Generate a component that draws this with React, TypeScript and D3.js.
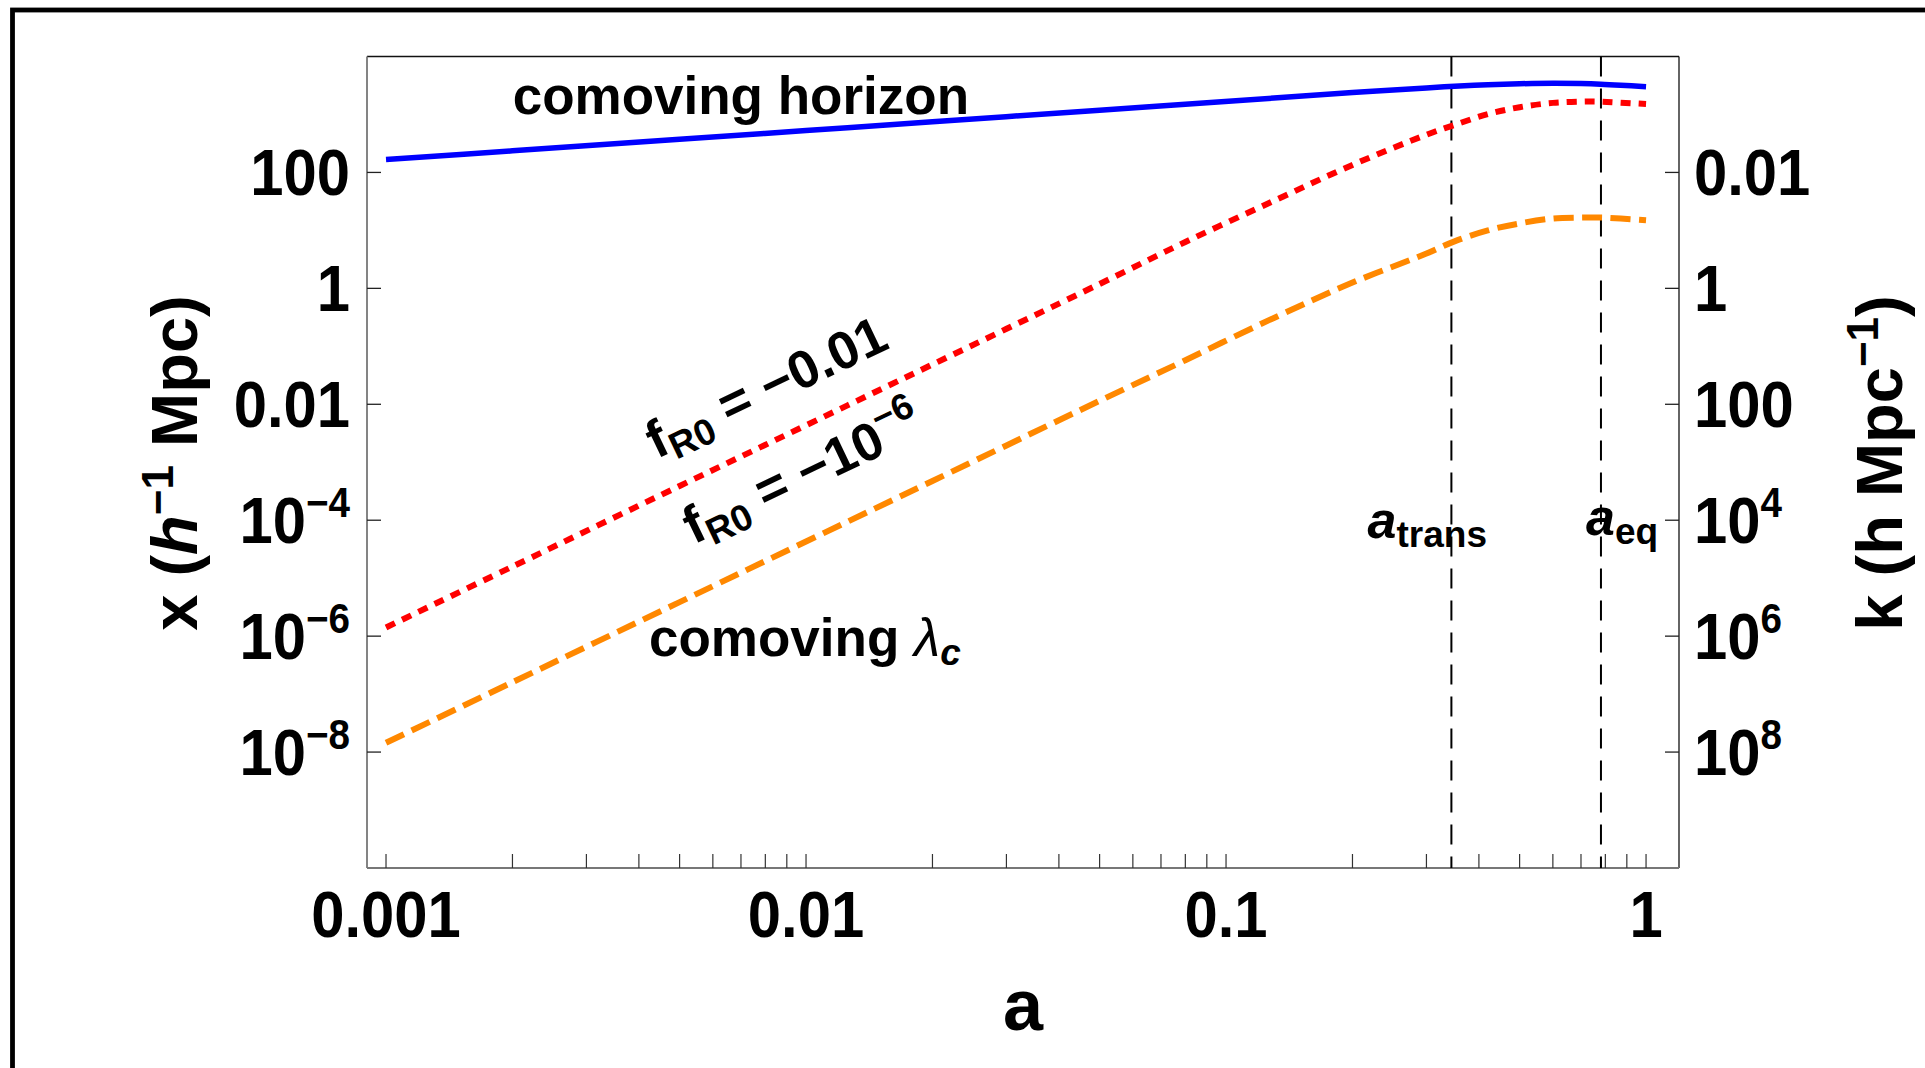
import React from 'react';
import * as d3 from 'd3';

// Canvas and plot frame
const W = 1925;
const H = 1068;
const FONT = "'Liberation Sans', Arial, Helvetica, sans-serif";
const frame = { left: 367, right: 1679, top: 56.5, bottom: 868 };

// Scale factor a (x axis)
const scaleFactors = [0.001, 0.002, 0.005, 0.01, 0.02, 0.05, 0.08, 0.13, 0.2, 0.3, 0.35, 0.42, 0.5, 0.6, 0.7, 0.78, 0.87, 1.0];
// Comoving horizon (h^-1 Mpc)
const comovingHorizon = [166.7, 235.5, 373.3, 527.2, 746.4, 1186, 1503, 1919, 2388, 2871, 3069, 3258, 3388, 3451, 3412, 3334, 3206, 3013];
// Comoving Compton wavelength, fR0 = -0.01
const lambdaFR0a = [1.413e-6, 1.585e-5, 3.89e-4, 4.335e-3, 0.04864, 1.191, 6.31, 32.36, 134.9, 446.7, 660.7, 1012, 1334, 1585, 1667, 1667, 1600, 1514];
// Comoving Compton wavelength, fR0 = -1e-6
const lambdaFR0b = [1.445e-8, 1.603e-7, 3.864e-6, 4.285e-5, 4.753e-4, 0.01148, 0.05754, 0.309, 1.259, 3.981, 6.457, 10.0, 13.18, 16.03, 16.67, 16.67, 16.03, 15.0];

// Marked epochs
const aTrans = 0.344;
const aEq = 0.781;

// Axis domains and ticks
const xDomain = [9.01e-4, 1.198];
const yDomain = [1e-10, 1e4];
const kDomain = [1e10, 1e-4];
const xTickValues = [0.001, 0.01, 0.1, 1];
const xTickLabels = ['0.001', '0.01', '0.1', '1'];
const yTickValues = [100, 1, 0.01, 1e-4, 1e-6, 1e-8];
const yTickLabels: [string, string][] = [['100', ''], ['1', ''], ['0.01', ''], ['10', '−4'], ['10', '−6'], ['10', '−8']];
const kTickValues = [0.01, 1, 100, 1e4, 1e6, 1e8];
const kTickLabels: [string, string][] = [['0.01', ''], ['1', ''], ['100', ''], ['10', '4'], ['10', '6'], ['10', '8']];

const x = d3.scaleLog().domain(xDomain).range([frame.left, frame.right]);
const y = d3.scaleLog().domain(yDomain).range([frame.bottom, frame.top]);
const k = d3.scaleLog().domain(kDomain).range([frame.bottom, frame.top]);

const minorTicks: number[] = [];
for (let e = -3; e <= -1; e++) {
  for (let m = 1; m <= 9; m++) minorTicks.push(m * Math.pow(10, e));
}
minorTicks.push(1);

const lineGen = d3
  .line<[number, number]>()
  .x((d) => x(d[0]))
  .y((d) => y(d[1]))
  .curve(d3.curveCatmullRom.alpha(0.5));

const pairs = (vals: number[]) => scaleFactors.map((a, i) => [a, vals[i]] as [number, number]);

const TICK = 14;
const TICK_FS = 65;
const SUP_FS = 42;

function TickLabel({ tx, ty, main, sup, anchor }: { tx: number; ty: number; main: string; sup: string; anchor: string }) {
  return (
    <text
      transform={`translate(${tx},${ty}) scale(0.92,1)`}
      textAnchor={anchor}
      fontSize={TICK_FS}
      fontWeight="bold"
      fontFamily={FONT}
    >
      {main}
      {sup ? (
        <tspan fontSize={SUP_FS} dy={-26}>
          {sup}
        </tspan>
      ) : null}
    </text>
  );
}

export default function App() {
  return (
    <svg
      width={W}
      height={H}
      viewBox={`0 0 ${W} ${H}`}
      style={{ position: 'absolute', left: 0, top: 0, background: '#fff' }}
      fontFamily={FONT}
    >
      <rect x={0} y={0} width={W} height={H} fill="#fff" />
      {/* outer border */}
      <rect x={12.5} y={10} width={W + 50} height={H + 50} fill="none" stroke="#000" strokeWidth={4.8} />

      {/* plot frame */}
      <line x1={frame.left} x2={frame.right} y1={frame.top} y2={frame.top} stroke="#111" strokeWidth={1.3} />
      <line x1={frame.right} x2={frame.right} y1={frame.top} y2={frame.bottom} stroke="#111" strokeWidth={1.3} />
      <line x1={frame.left} x2={frame.left} y1={frame.top} y2={frame.bottom} stroke="#777" strokeWidth={1.8} />
      <line x1={frame.left} x2={frame.right} y1={frame.bottom} y2={frame.bottom} stroke="#777" strokeWidth={1.8} />

      {/* bottom ticks */}
      {minorTicks.map((t, i) => (
        <line key={'bt' + i} x1={x(t)} x2={x(t)} y1={frame.bottom} y2={frame.bottom - TICK} stroke="#333" strokeWidth={1.2} />
      ))}
      {/* left ticks */}
      {yTickValues.map((t, i) => (
        <line key={'lt' + i} x1={frame.left} x2={frame.left + TICK} y1={y(t)} y2={y(t)} stroke="#222" strokeWidth={1.3} />
      ))}
      {/* right ticks */}
      {kTickValues.map((t, i) => (
        <line key={'rt' + i} x1={frame.right} x2={frame.right - TICK} y1={k(t)} y2={k(t)} stroke="#222" strokeWidth={1.3} />
      ))}

      {/* epoch markers */}
      {[aTrans, aEq].map((a, i) => (
        <line
          key={'ep' + i}
          x1={x(a)}
          x2={x(a)}
          y1={frame.top}
          y2={frame.bottom}
          stroke="#000"
          strokeWidth={2}
          strokeDasharray="20 12"
        />
      ))}

      {/* curves */}
      <path d={lineGen(pairs(comovingHorizon)) || ''} fill="none" stroke="#0000ff" strokeWidth={5.5} />
      <path d={lineGen(pairs(lambdaFR0a)) || ''} fill="none" stroke="#ff0000" strokeWidth={6} strokeDasharray="10 8" />
      <path d={lineGen(pairs(lambdaFR0b)) || ''} fill="none" stroke="#ff8800" strokeWidth={6} strokeDasharray="20 8.5" />

      {/* tick labels */}
      {xTickValues.map((t, i) => (
        <TickLabel key={'xl' + i} tx={x(t)} ty={936.5} main={xTickLabels[i]} sup="" anchor="middle" />
      ))}
      {yTickValues.map((t, i) => (
        <TickLabel key={'yl' + i} tx={350} ty={y(t) + 23} main={yTickLabels[i][0]} sup={yTickLabels[i][1]} anchor="end" />
      ))}
      {kTickValues.map((t, i) => (
        <TickLabel key={'kl' + i} tx={1694} ty={k(t) + 23} main={kTickLabels[i][0]} sup={kTickLabels[i][1]} anchor="start" />
      ))}

      {/* axis titles */}
      <text x={1023} y={1030} textAnchor="middle" fontSize={72} fontWeight="bold">
        a
      </text>
      <text transform="translate(197,463) rotate(-90)" textAnchor="middle" fontSize={65} fontWeight="bold" style={{ whiteSpace: 'pre' }}>
        <tspan>x (</tspan>
        <tspan fontStyle="italic">h</tspan>
        <tspan fontSize={44} dy={-24}>−1</tspan>
        <tspan dy={24}> Mpc)</tspan>
      </text>
      <text transform="translate(1902,463) rotate(-90)" textAnchor="middle" fontSize={65} fontWeight="bold" style={{ whiteSpace: 'pre' }}>
        <tspan>k (h Mpc</tspan>
        <tspan fontSize={44} dy={-24}>−1</tspan>
        <tspan dy={24}>)</tspan>
      </text>

      {/* annotations */}
      <text x={512.7} y={113.5} fontSize={53} fontWeight="bold">
        comoving horizon
      </text>
      <g transform="translate(767,389) rotate(-25.5)">
        <text x={0} y={16} textAnchor="middle" fontSize={53} fontWeight="bold" style={{ whiteSpace: 'pre' }}>
          <tspan>f</tspan>
          <tspan fontSize={37} dy={9}>R0</tspan>
          <tspan dy={-9}> = −0.01</tspan>
        </text>
      </g>
      <g transform="translate(803,475) rotate(-25.5)">
        <text x={0} y={16} textAnchor="middle" fontSize={53} fontWeight="bold" style={{ whiteSpace: 'pre' }}>
          <tspan>f</tspan>
          <tspan fontSize={37} dy={9}>R0</tspan>
          <tspan dy={-9}> = −10</tspan>
          <tspan fontSize={37} dy={-22}>−6</tspan>
        </text>
      </g>
      <text x={649} y={656} fontSize={53} fontWeight="bold" style={{ whiteSpace: 'pre' }}>
        <tspan>comoving </tspan>
        <tspan fontStyle="italic" fontWeight="normal">λ</tspan>
        <tspan fontStyle="italic" fontSize={37} dy={9}>c</tspan>
      </text>
      <text x={1367.6} y={538} fontSize={52} fontWeight="bold">
        <tspan fontStyle="italic">a</tspan>
        <tspan fontSize={37} dy={9}>trans</tspan>
      </text>
      <text x={1586} y={535} fontSize={52} fontWeight="bold">
        <tspan fontStyle="italic">a</tspan>
        <tspan fontSize={37} dy={9}>eq</tspan>
      </text>
    </svg>
  );
}
